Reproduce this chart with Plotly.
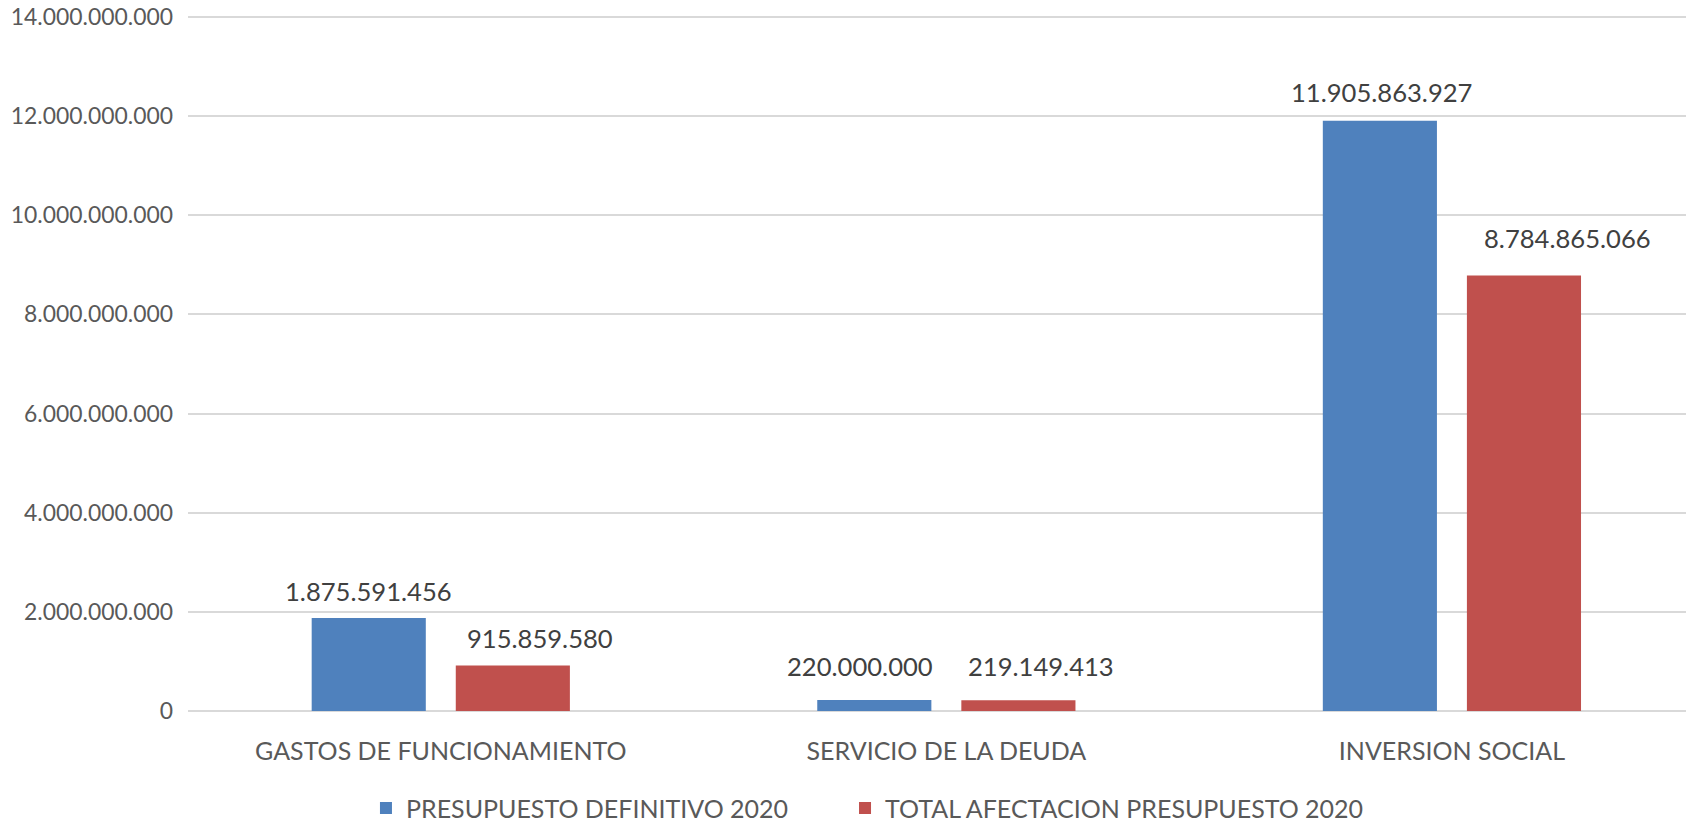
import plotly.graph_objects as go

categories = ["GASTOS DE FUNCIONAMIENTO", "SERVICIO DE LA DEUDA", "INVERSION SOCIAL"]
series_names = ["PRESUPUESTO DEFINITIVO 2020", "TOTAL AFECTACION PRESUPUESTO 2020"]
presupuesto_definitivo = [1875591456, 220000000, 11905863927]
total_afectacion = [915859580, 219149413, 8784865066]
y_tick_values = [0, 2e9, 4e9, 6e9, 8e9, 10e9, 12e9, 14e9]

# style
colors = ["#4F81BD", "#C0504D"]
FONT = "Lato, 'Open Sans', sans-serif"
W, H = 1686, 824
Y_MAX = 14.1e9   # a little headroom so the top gridline is drawn
ML, MR, MT, MB = 188, 0, 12, 113
label_dx = [[0, -14, 2], [27, 23, 44]]      # manual label shifts (px)
label_dy = [27, 34, 29], [28, 34, 37]       # label centre above bar top (px)
bar_offset_px = [-72, 72]
legend_x = [0.1188, 0.4386]
legend_y = -0.139


def fmt(v):
    return f"{v:,}".replace(",", ".")


fig = go.Figure()
legend_ids = ["legend", "legend2"]
for name, vals, col, lid in zip(series_names, [presupuesto_definitivo, total_afectacion], colors, legend_ids):
    fig.add_trace(go.Bar(x=categories, y=vals, name=name, legend=lid,
                         marker=dict(color=col, line=dict(width=0))))

annotations = []
for s, vals in enumerate([presupuesto_definitivo, total_afectacion]):
    for i, (c, v) in enumerate(zip(categories, vals)):
        annotations.append(dict(
            x=c, y=v, xref="x", yref="y", text=fmt(v), showarrow=False,
            xanchor="center", yanchor="middle",
            xshift=bar_offset_px[s] + label_dx[s][i], yshift=label_dy[s][i],
            font=dict(family=FONT, size=25.6, color="#404040"),
        ))

legend_style = dict(orientation="h", xanchor="left", yanchor="middle", y=legend_y,
                    font=dict(family=FONT, size=25, color="#595959"),
                    bgcolor="rgba(0,0,0,0)", borderwidth=0)

fig.update_layout(
    width=W, height=H,
    margin=dict(l=ML, r=MR, t=MT, b=MB, pad=0, autoexpand=False),
    paper_bgcolor="white", plot_bgcolor="white",
    barmode="group", bargap=0.43, bargroupgap=0.208,
    separators=",.",
    font=dict(family=FONT, color="#595959"),
    annotations=annotations,
    showlegend=True,
    legend=dict(x=legend_x[0], **legend_style),
    legend2=dict(x=legend_x[1], **legend_style),
)
fig.update_xaxes(
    type="category", range=[-0.5, 2.463], showgrid=False, zeroline=False, showline=False,
    ticks="", tickfont=dict(family=FONT, size=25, color="#595959"), ticklabelstandoff=23,
)
fig.update_yaxes(
    range=[0, Y_MAX], tickvals=y_tick_values, tickformat=",d", showgrid=True,
    gridcolor="#D9D9D9", gridwidth=2, zeroline=True, zerolinecolor="#D9D9D9", zerolinewidth=2,
    showline=False, ticks="", tickfont=dict(family=FONT, size=22.9, color="#595959"),
    ticklabelstandoff=14, ticklabeloverflow="allow",
)

fig.write_html("out.html",
               config={"displayModeBar": False},
               post_script="document.body.style.margin='0';document.body.style.overflow='hidden';")
